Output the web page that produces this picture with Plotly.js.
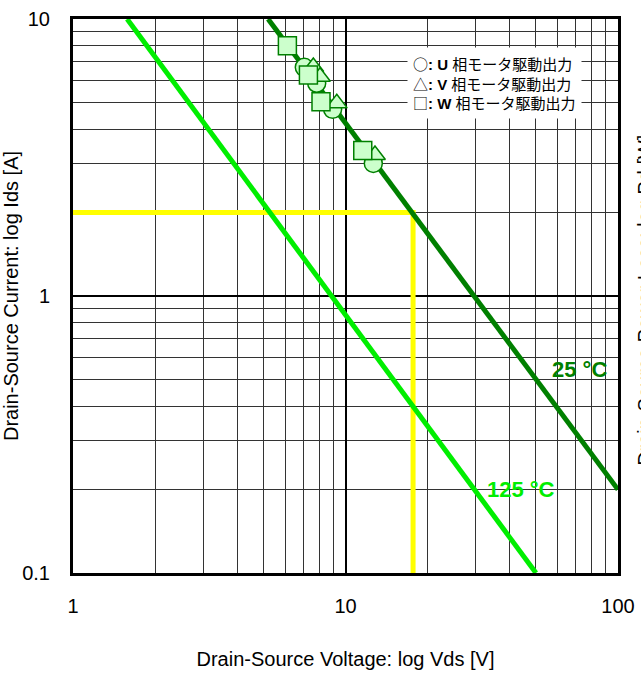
<!DOCTYPE html>
<html>
<head>
<meta charset="utf-8">
<script src="https://cdn.plot.ly/plotly-3.0.1.min.js"></script>
<style>html,body{margin:0;padding:0;background:#fff;}#chart{width:641px;height:673px;}</style>
</head>
<body>
<div id="chart"></div>
<script>
// Temperature characteristic lines (Vds [V], Ids [A])
const line25Vds = [5.2, 100];
const line25Ids = [10, 0.2];
const line125Vds = [1.58, 50];
const line125Ids = [10, 0.1];
// Yellow guide (operating point)
const guideVds = [1, 17.7, 17.7];
const guideIds = [2, 2, 0.1];
// Measured points per phase
const uVds = [7.06, 7.84, 8.97, 12.65];
const uIds = [6.69, 5.86, 4.72, 3.01];
const vVds = [7.62, 8.06, 9.29, 12.83];
const vIds = [6.71, 6.19, 4.96, 3.23];
const wVds = [6.12, 7.31, 8.13, 11.57];
const wIds = [8.01, 6.28, 5.03, 3.35];
const xTickVals = [1, 10, 100];
const xTickText = ['1', '10', '100'];
const yTickVals = [0.1, 1, 10];
const yTickText = ['0.1', '1', '10'];
const legendSymbols = ['○', '△', '□'];
const legendPhases = ['U', 'V', 'W'];
const legendLabel = '相モータ駆動出力';

const dark = '#008000';
const light = '#00ee00';
const fill = '#ccffcc';
const font = 'Arial, "Liberation Sans", "Noto Sans CJK JP", sans-serif';
const cjk = '"Noto Sans CJK JP", sans-serif';

const mk = (sym) => ({symbol: sym, size: 18, color: fill, line: {color: dark, width: 1.5}});

const traces = [
  {x: guideVds, y: guideIds, mode: 'lines', line: {color: '#ffff00', width: 5}},
  {x: line125Vds, y: line125Ids, mode: 'lines', line: {color: light, width: 5}},
  {x: line25Vds, y: line25Ids, mode: 'lines', line: {color: dark, width: 5}},
  {x: uVds, y: uIds, mode: 'markers', marker: mk('circle')},
  {x: vVds, y: vIds, mode: 'markers', marker: mk('triangle-up')},
  {x: wVds, y: wIds, mode: 'markers', marker: mk('square')}
];

const axisCommon = {
  type: 'log', dtick: 1,
  showline: true, mirror: true, linewidth: 3, linecolor: '#000',
  showgrid: true, gridcolor: '#000', gridwidth: 2,
  minor: {showgrid: true, gridcolor: '#333', gridwidth: 1, dtick: 'D1', ticks: ''},
  ticks: '',
  tickfont: {family: font, size: 20, color: '#000'},
  zeroline: false
};

const legendText = legendSymbols.map((s, i) =>
  '<span style="font-family:' + cjk.replace(/"/g, "'") + '">' + s + '</span><b>: ' + legendPhases[i] + '</b> ' + legendLabel
).join('<br>');

const layout = {
  width: 641, height: 673,
  margin: {l: 73, r: 23, t: 19, b: 100},
  paper_bgcolor: '#fff', plot_bgcolor: '#fff',
  showlegend: false,
  font: {family: font, color: '#000'},
  xaxis: Object.assign({}, axisCommon, {
    range: [0, 2], tickvals: xTickVals, ticktext: xTickText, ticklabelstandoff: 13,
    title: {text: 'Drain-Source Voltage: log Vds [V]', font: {family: font, size: 20, color: '#000'}, standoff: 36}
  }),
  yaxis: Object.assign({}, axisCommon, {
    range: [-1, 1], tickvals: yTickVals, ticktext: yTickText, ticklabelstandoff: 16,
    title: {text: 'Drain-Source Current: log Ids [A]', font: {family: font, size: 20, color: '#000'}, standoff: 14}
  }),
  annotations: [
    {xref: 'paper', yref: 'paper', x: 0.613, y: 0.950, xanchor: 'left', yanchor: 'top', align: 'left',
     text: legendText, showarrow: false, bgcolor: '#fff', borderpad: 5,
     font: {family: font, size: 15, color: '#000'}},
    {xref: 'paper', yref: 'paper', x: 0.930, y: 0.368, xanchor: 'center', yanchor: 'middle', text: '<b>25 °C</b>', showarrow: false,
     font: {family: font, size: 22, color: dark}},
    {xref: 'paper', yref: 'paper', x: 0.822, y: 0.150, xanchor: 'center', yanchor: 'middle', text: '<b>125 °C</b>', showarrow: false,
     font: {family: font, size: 22, color: light}},
    {xref: 'paper', yref: 'paper', x: 1.0495, y: 0.493, xanchor: 'center', yanchor: 'middle', text: 'Drain-Source Power Loss: log Pd [W]', textangle: -90,
     showarrow: false, font: {family: font, size: 20, color: '#000'}}
  ]
};

Plotly.newPlot('chart', traces, layout, {staticPlot: true, displayModeBar: false});
</script>
</body>
</html>
